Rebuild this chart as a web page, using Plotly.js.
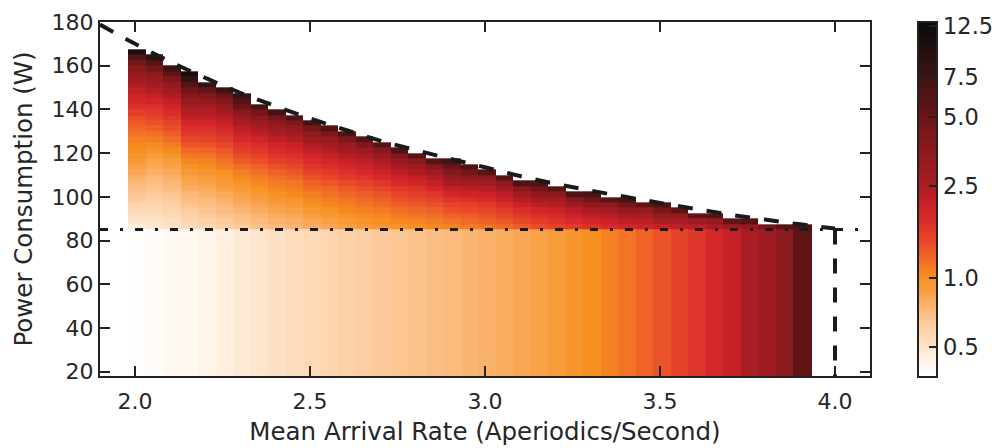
<!DOCTYPE html>
<html>
<head>
<meta charset="utf-8">
<script src="https://cdn.plot.ly/plotly-3.0.1.min.js"></script>
<style>html,body{margin:0;padding:0;background:#fff;}#chart{width:1003px;height:448px;}</style>
</head>
<body>
<div id="chart"></div>
<script>
// ---- data ----
const arrivalRateEdges = [1.98, 2.03, 2.08, 2.13, 2.18, 2.23, 2.28, 2.33, 2.38, 2.43, 2.48, 2.53, 2.58, 2.63, 2.68, 2.73, 2.78, 2.83, 2.88, 2.93, 2.98, 3.03, 3.08, 3.13, 3.18, 3.23, 3.28, 3.33, 3.38, 3.43, 3.48, 3.53, 3.58, 3.63, 3.68, 3.73, 3.78, 3.83, 3.88, 3.935];
const powerBinEdges = [18, 85, 87.5, 90, 92.5, 95, 97.5, 100, 102.5, 105, 107.5, 110, 112.5, 115, 117.5, 120, 122.5, 125, 127.5, 130, 132.5, 135, 137.5, 140, 142.5, 145, 147.5, 150, 152.5, 155, 157.5, 160, 162.5, 165, 167.5];

// value in the 18-85 W band, per arrival-rate column
const lowBand = [0.38, 0.39, 0.40, 0.41, 0.43, 0.45, 0.47, 0.49, 0.51, 0.53, 0.55, 0.57, 0.59, 0.61, 0.63, 0.65, 0.67, 0.69, 0.71, 0.74, 0.76, 0.79, 0.82, 0.86, 0.90, 0.95, 1.0, 1.07, 1.15, 1.25, 1.35, 1.5, 1.65, 1.85, 2.1, 2.5, 2.9, 3.6, 5.5];

// values above 85 W, per column, from the 85-87.5 W bin upward
const upperBand = [
  [0.45,0.49,0.52,0.55,0.58,0.62,0.65,0.69,0.72,0.77,0.82,0.87,0.92,0.96,1.0,1.03,1.08,1.15,1.23,1.3,1.4,1.55,1.7,1.85,2.0,2.2,2.45,2.8,3.2,3.7,4.5,6.0,11],
  [0.48,0.50,0.52,0.55,0.57,0.60,0.63,0.66,0.69,0.72,0.77,0.81,0.84,0.89,0.95,1.02,1.10,1.17,1.27,1.37,1.48,1.60,1.74,1.93,2.14,2.38,2.73,3.11,3.57,4.47,6.1,8.9],
  [0.50,0.52,0.55,0.58,0.60,0.63,0.66,0.70,0.73,0.77,0.81,0.85,0.89,0.95,1.02,1.10,1.19,1.28,1.38,1.49,1.61,1.77,1.97,2.18,2.48,2.83,3.24,4.03,5.5,7.9],
  [0.53,0.56,0.59,0.62,0.66,0.70,0.73,0.78,0.82,0.86,0.91,0.97,1.04,1.13,1.22,1.34,1.46,1.59,1.73,1.90,2.14,2.41,2.75,3.2,3.7,4.7,6.0,8.0,11],
  [0.56,0.59,0.62,0.66,0.69,0.72,0.76,0.80,0.85,0.89,0.94,1.0,1.07,1.15,1.24,1.36,1.47,1.59,1.73,1.91,2.14,2.42,2.79,3.2,3.9,5.3,8.0],
  [0.60,0.63,0.66,0.70,0.73,0.77,0.81,0.86,0.90,0.94,0.99,1.07,1.15,1.24,1.34,1.45,1.57,1.71,1.88,2.10,2.34,2.70,3.1,3.8,5.0,7.5],
  [0.63,0.67,0.70,0.74,0.78,0.83,0.87,0.92,0.97,1.02,1.09,1.18,1.29,1.40,1.53,1.66,1.81,2.03,2.29,2.62,3.05,3.7,4.9,6.0,8.0],
  [0.67,0.71,0.74,0.79,0.83,0.88,0.92,0.97,1.03,1.09,1.17,1.26,1.37,1.50,1.63,1.78,1.97,2.22,2.52,2.94,3.5,4.5,7.0],
  [0.71,0.75,0.79,0.84,0.88,0.93,0.98,1.04,1.10,1.17,1.26,1.37,1.50,1.64,1.79,1.97,2.22,2.52,2.93,3.4,4.5,7.0],
  [0.74,0.78,0.82,0.87,0.92,0.97,1.03,1.08,1.14,1.23,1.33,1.45,1.58,1.73,1.88,2.12,2.39,2.79,3.24,4.2,6.5],
  [0.78,0.83,0.88,0.93,0.98,1.04,1.10,1.17,1.25,1.36,1.48,1.62,1.77,1.95,2.19,2.48,2.90,3.4,4.5,7.0],
  [0.82,0.87,0.92,0.97,1.03,1.09,1.16,1.22,1.32,1.44,1.57,1.73,1.89,2.10,2.39,2.77,3.25,4.2,6.5],
  [0.86,0.91,0.97,1.03,1.09,1.16,1.23,1.31,1.42,1.56,1.71,1.88,2.08,2.37,2.74,3.24,4.15,6.5],
  [0.90,0.95,1.01,1.07,1.14,1.21,1.28,1.38,1.50,1.65,1.82,2.0,2.26,2.59,3.05,3.9,6.0],
  [0.93,0.99,1.05,1.12,1.19,1.27,1.35,1.47,1.62,1.79,1.97,2.22,2.54,3.03,3.8,6.0],
  [0.96,1.03,1.10,1.18,1.26,1.35,1.46,1.61,1.79,2.0,2.25,2.61,3.14,4.0,6.5],
  [0.99,1.06,1.14,1.22,1.31,1.40,1.53,1.69,1.90,2.13,2.45,2.91,3.7,6.0],
  [1.02,1.10,1.18,1.27,1.37,1.48,1.65,1.85,2.08,2.41,2.88,3.66,6.0],
  [1.06,1.15,1.26,1.37,1.49,1.66,1.89,2.17,2.52,3.08,3.97,5.0,7.0],
  [1.10,1.20,1.30,1.42,1.54,1.74,1.99,2.28,2.75,3.48,4.5,6.5],
  [1.15,1.25,1.36,1.48,1.60,1.80,2.05,2.34,2.81,3.54,6.0],
  [1.20,1.31,1.44,1.57,1.74,1.99,2.30,2.75,3.50,6.0],
  [1.30,1.44,1.59,1.76,2.01,2.36,2.84,3.67,6.5],
  [1.40,1.55,1.72,1.93,2.25,2.68,3.45,4.5,6.5],
  [1.50,1.66,1.83,2.03,2.36,2.78,3.54,6.0],
  [1.60,1.80,2.02,2.33,2.81,3.64,6.5],
  [1.70,1.93,2.19,2.64,3.36,4.6,6.5],
  [1.80,2.03,2.29,2.74,3.44,6.0],
  [1.90,2.19,2.59,3.32,4.5,6.5],
  [2.0,2.27,2.63,3.27,5.5],
  [2.1,2.50,3.21,4.3,6.5],
  [2.2,2.56,3.18,5.5],
  [2.3,2.91,5.5],
  [2.5,3.2,6.0],
  [2.8,5.5],
  [3.2,6.0],
  [4.5],
  [6.0],
  [6.5]
];

// dashed bound curve (upper envelope, then the 4.0 rate limit)
const boundRate = [1.9, 2.0, 2.1, 2.2, 2.3, 2.4, 2.5, 2.6, 2.7, 2.8, 2.9, 3.0, 3.1, 3.2, 3.3, 3.4, 3.5, 3.6, 3.7, 3.8, 3.9, 4.0];
const boundPower = [178.8, 170.0, 161.9, 154.5, 147.6, 141.6, 135.9, 130.7, 125.7, 121.5, 117.4, 113.5, 109.5, 106.0, 102.9, 100.0, 97.2, 94.5, 91.8, 89.6, 87.4, 85.5];
const rateLimit = 4.0;
const powerCap = 85;

const cbTickValues = [0.5, 1.0, 2.5, 5.0, 7.5, 12.5];
const cbTickText = ['0.5', '1.0', '2.5', '5.0', '7.5', '12.5'];
const cbMin = 0.372, cbMax = 13.05;

// ---- build grid ----
const nCols = arrivalRateEdges.length - 1;
const nRows = powerBinEdges.length - 1;
const z = [];
for (let r = 0; r < nRows; r++) {
  const row = [];
  for (let c = 0; c < nCols; c++) {
    let v = null;
    if (r === 0) v = lowBand[c];
    else if (upperBand[c] && upperBand[c][r - 1] !== undefined) v = upperBand[c][r - 1];
    row.push(v === null ? null : Math.log10(v));
  }
  z.push(row);
}

const lmin = Math.log10(cbMin), lmax = Math.log10(cbMax);
const colorStops = [
  [0.372, '#ffffff'], [0.45, '#fff0e2'], [0.5, '#fde3c8'], [0.6, '#fdd0a6'], [0.7, '#fbbd82'],
  [0.85, '#f9a24a'], [1.0, '#f68f1f'], [1.15, '#f27426'], [1.4, '#ea4c29'], [1.8, '#d72a2a'],
  [2.2, '#c21f27'], [2.5, '#ab1d24'], [3.5, '#8e1a1d'], [5.0, '#6a1517'], [7.5, '#3c1414'],
  [12.5, '#0d0b0b'], [13.05, '#080808']
];
const colorscale = colorStops.map(s => [Math.min(1, Math.max(0, (Math.log10(s[0]) - lmin) / (lmax - lmin))), s[1]]);
colorscale[0][0] = 0; colorscale[colorscale.length - 1][0] = 1;

const FONT = 'DejaVu Sans, sans-serif';
const TXT = '#262626';

const traces = [
  {
    type: 'heatmap', x: arrivalRateEdges, y: powerBinEdges, z: z,
    zmin: lmin, zmax: lmax, colorscale: colorscale, zsmooth: false, hoverinfo: 'skip',
    colorbar: {
      x: 1.0623, xanchor: 'left', xpad: 0, y: 0.5, yanchor: 'middle', ypad: 0,
      thickness: 19, thicknessmode: 'pixels', len: 355, lenmode: 'pixels',
      outlinewidth: 2, outlinecolor: '#222',
      tickmode: 'array', tickvals: cbTickValues.map(v => Math.log10(v)), ticktext: cbTickText,
      ticks: 'inside', ticklen: 9, tickwidth: 2, tickcolor: '#222',
      ticklabelstandoff: 2,
      tickfont: {family: FONT, size: 22.5, color: TXT}
    }
  },
  {
    type: 'scatter', mode: 'lines', x: [1.9, 4.1], y: [powerCap, powerCap], hoverinfo: 'skip',
    line: {color: '#1a1a1a', width: 3, dash: '8px,12px,3px,12px'}, showlegend: false
  },
  {
    type: 'scatter', mode: 'lines', x: boundRate, y: boundPower, hoverinfo: 'skip',
    line: {color: '#1a1a1a', width: 4, dash: '15px,14px', shape: 'spline'}, showlegend: false
  },
  {
    type: 'scatter', mode: 'lines', x: [rateLimit, rateLimit], y: [powerCap, 18], hoverinfo: 'skip',
    line: {color: '#1a1a1a', width: 4, dash: '15px,14px'}, showlegend: false
  }
];

const axisCommon = {
  showline: true, linewidth: 2, linecolor: '#222', mirror: 'ticks',
  ticks: 'inside', ticklen: 10, tickwidth: 2, tickcolor: '#222',
  showgrid: false, zeroline: false,
  tickfont: {family: FONT, size: 22, color: TXT}
};

const layout = {
  width: 1003, height: 448,
  margin: {l: 100, r: 133, t: 22, b: 72, pad: 0, autoexpand: false},
  paper_bgcolor: '#fff', plot_bgcolor: '#fff',
  showlegend: false,
  xaxis: Object.assign({}, axisCommon, {
    range: [1.9, 4.1], tickvals: [2.0, 2.5, 3.0, 3.5, 4.0], tickformat: '.1f',
    ticklabelstandoff: 5,
    title: {text: 'Mean Arrival Rate (Aperiodics/Second)', font: {family: FONT, size: 24.5, color: TXT}, standoff: 9}
  }),
  yaxis: Object.assign({}, axisCommon, {
    range: [18, 180], tickvals: [20, 40, 60, 80, 100, 120, 140, 160, 180],
    ticklabelstandoff: 0,
    title: {text: 'Power Consumption (W)', font: {family: FONT, size: 24.5, color: TXT}, standoff: 12}
  })
};

Plotly.newPlot('chart', traces, layout, {staticPlot: true, displayModeBar: false});
</script>
</body>
</html>
